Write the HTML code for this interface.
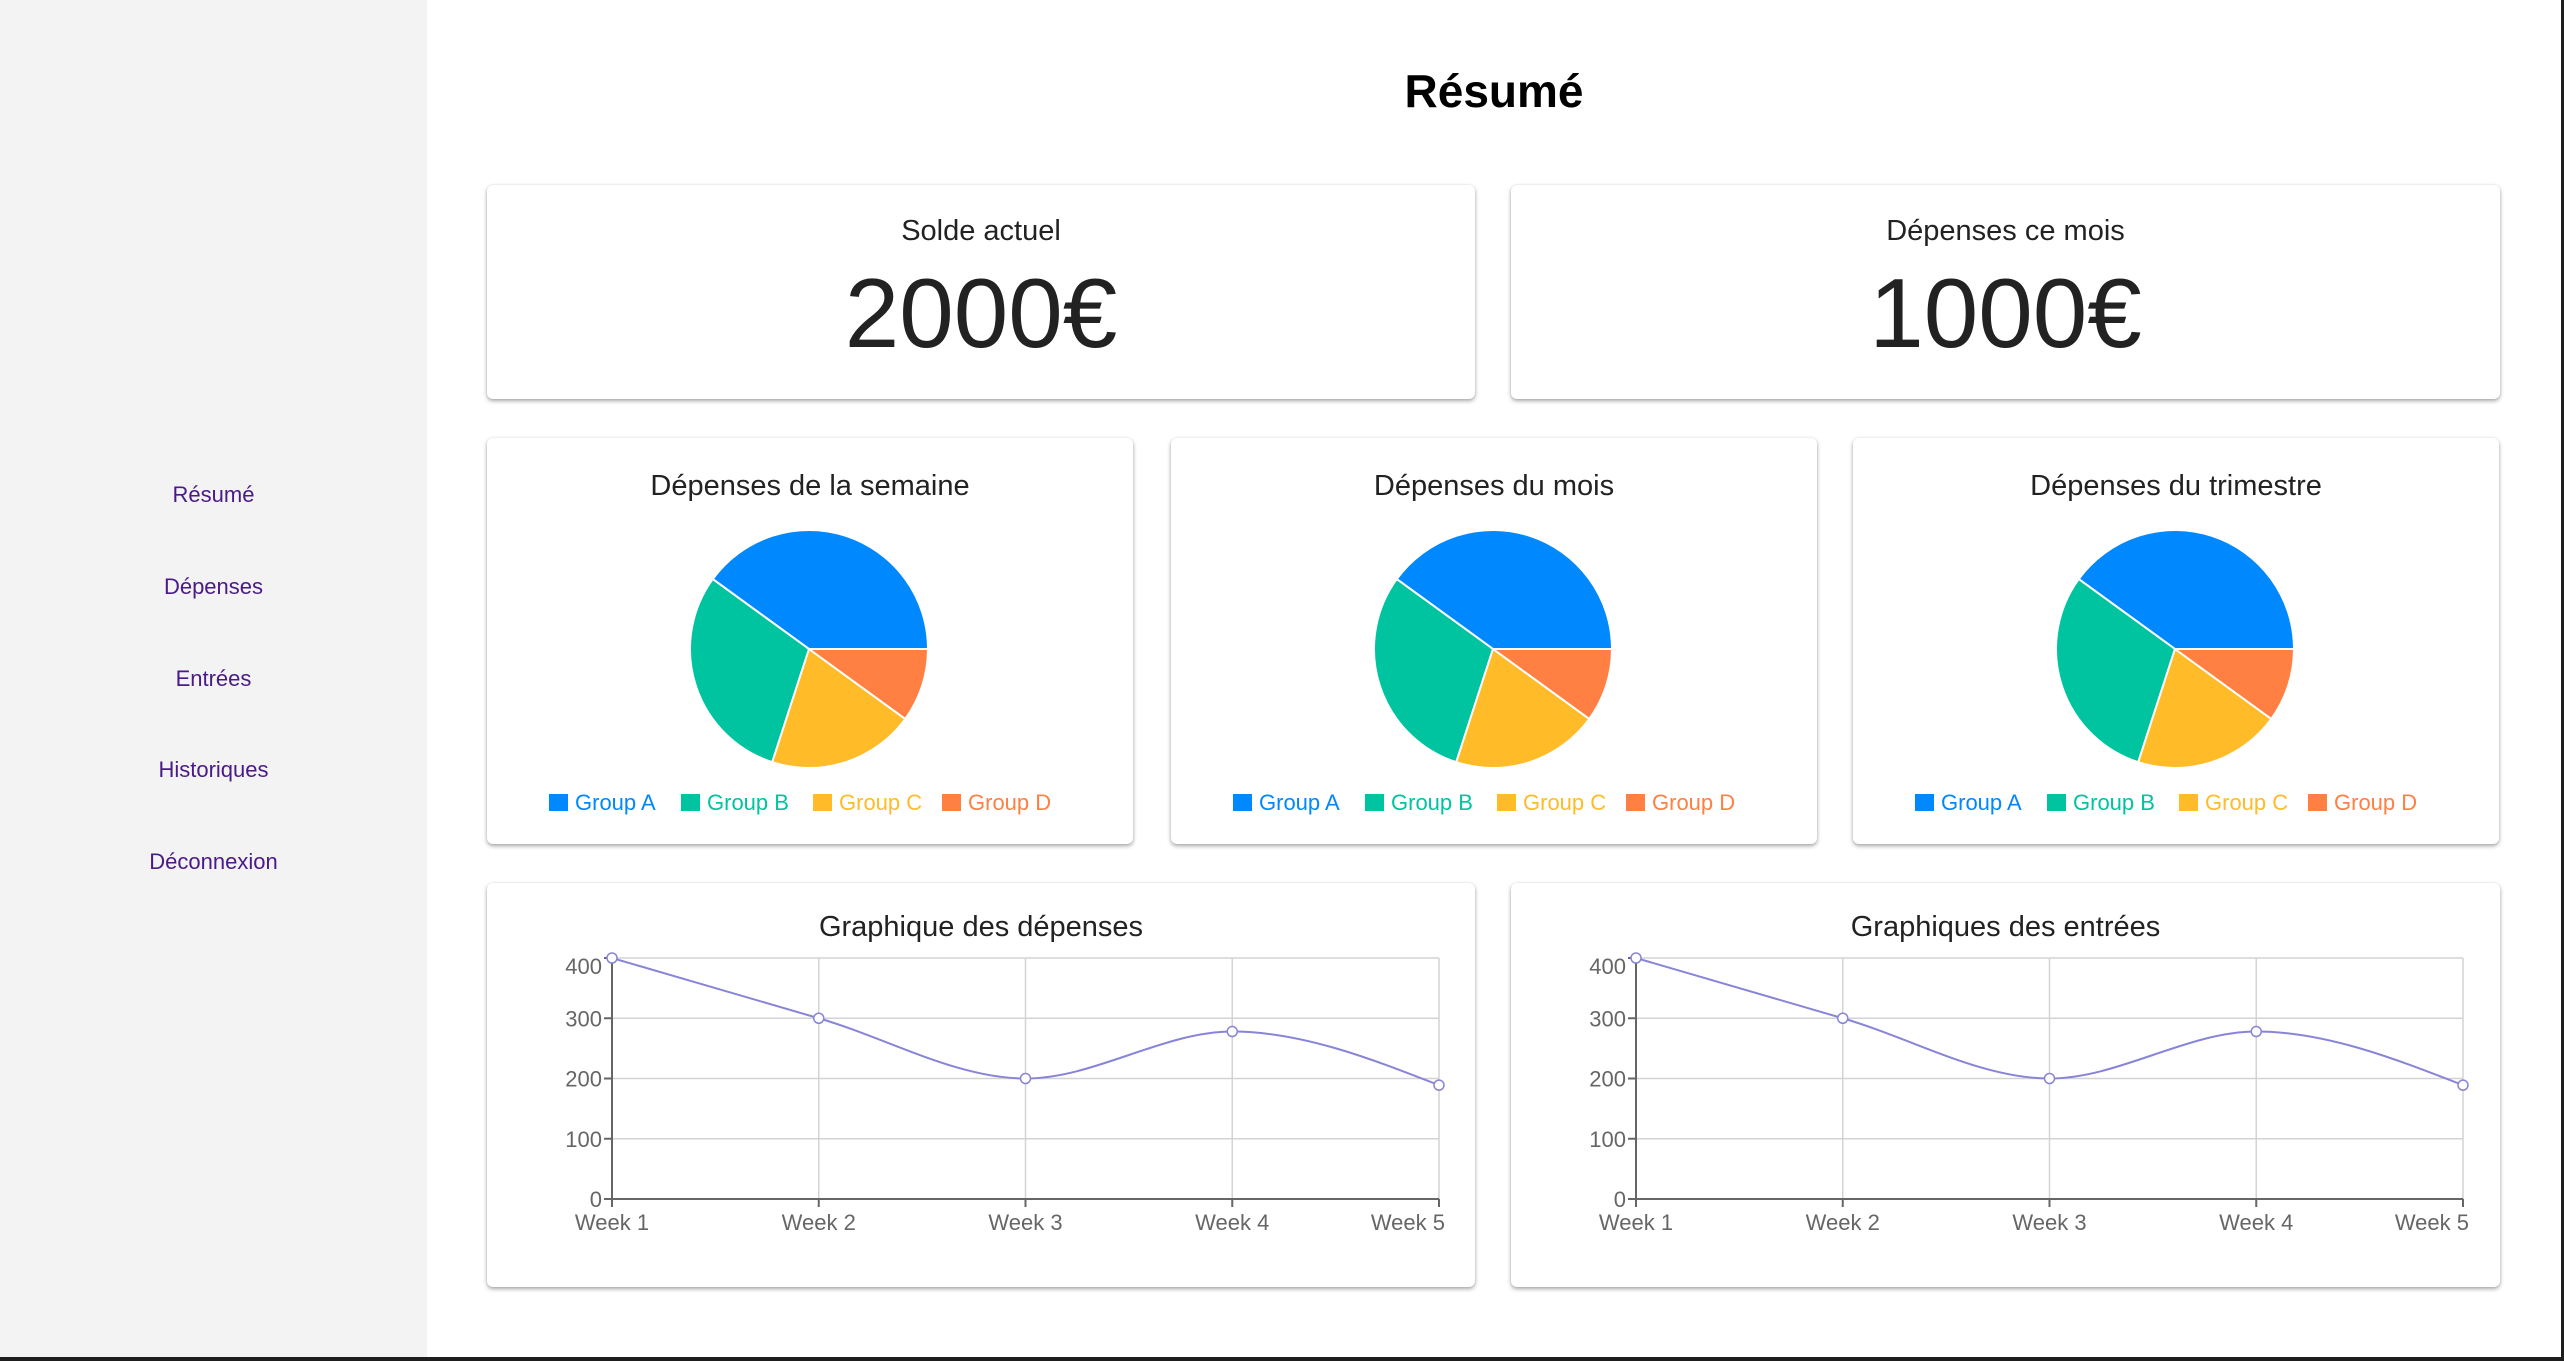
<!DOCTYPE html>
<html><head><meta charset="utf-8">
<style>
html,body{margin:0;padding:0;}
body{width:2564px;height:1361px;position:relative;overflow:hidden;background:#fff;font-family:"Liberation Sans",sans-serif;}
#frame-bottom{position:absolute;left:0;top:1357px;width:2564px;height:4px;background:#1e1e1e;}
#frame-right{position:absolute;left:2561px;top:0;width:3px;height:1361px;background:#1e1e1e;}
#sidebar{position:absolute;left:0;top:0;width:427px;height:1357px;background:#f3f3f3;}
.nav{position:absolute;left:0;width:427px;text-align:center;color:#4a1a86;font-size:22px;cursor:pointer;}
h1{position:absolute;left:427px;width:2134px;top:64px;margin:0;text-align:center;font-size:46px;font-weight:bold;color:#000;}
.card{position:absolute;background:#fff;border-radius:6px;box-shadow:0 2px 4px rgba(0,0,0,.35),0 0 2px rgba(0,0,0,.08);}
.ctitle{position:absolute;left:0;width:100%;text-align:center;color:#222;font-size:29px;}
.big{position:absolute;left:0;width:100%;text-align:center;color:#222;font-size:98px;}
svg{position:absolute;left:0;top:0;}
</style></head><body>
<div id="sidebar">
<div class="nav" style="top:482px">Résumé</div>
<div class="nav" style="top:574px">Dépenses</div>
<div class="nav" style="top:666px">Entrées</div>
<div class="nav" style="top:757px">Historiques</div>
<div class="nav" style="top:849px">Déconnexion</div>
</div>
<h1>Résumé</h1>

<div class="card" style="left:487px;top:185px;width:988px;height:214px">
<div class="ctitle" style="top:30px">Solde actuel</div>
<div class="big" style="top:72px">2000€</div>
</div>
<div class="card" style="left:1511px;top:185px;width:989px;height:214px">
<div class="ctitle" style="top:30px">Dépenses ce mois</div>
<div class="big" style="top:72px">1000€</div>
</div>

<div class="card" id="pie1" style="left:487px;top:438px;width:646px;height:406px">
<div class="ctitle" style="top:32px">Dépenses de la semaine</div></div>
<div class="card" id="pie2" style="left:1171px;top:438px;width:646px;height:406px">
<div class="ctitle" style="top:32px">Dépenses du mois</div></div>
<div class="card" id="pie3" style="left:1853px;top:438px;width:646px;height:406px">
<div class="ctitle" style="top:32px">Dépenses du trimestre</div></div>

<div class="card" id="line1" style="left:487px;top:883px;width:988px;height:404px">
<div class="ctitle" style="top:28px">Graphique des dépenses</div></div>
<div class="card" id="line2" style="left:1511px;top:883px;width:989px;height:404px">
<div class="ctitle" style="top:28px">Graphiques des entrées</div></div>

<div id="frame-bottom"></div>
<div id="frame-right"></div>

<script>
const pieGroups = ["Group A","Group B","Group C","Group D"];
const pieValues = [400,300,200,100];
const pieColors = ["#0088FE","#00C49F","#FFBB28","#FF8042"];
const weeks = ["Week 1","Week 2","Week 3","Week 4","Week 5"];
const expenseValues = [400,300,200,278,189];
const incomeValues = [400,300,200,278,189];
const yTicks = [0,100,200,300,400];

const NS="http://www.w3.org/2000/svg";
function mk(tag,attrs){const e=document.createElementNS(NS,tag);for(const k in attrs)e.setAttribute(k,attrs[k]);return e;}

function drawPie(id){
  const card=document.getElementById(id);
  const svg=mk('svg',{width:646,height:406});
  card.appendChild(svg);
  const cx=322,cy=211,r=119;
  const total=pieValues.reduce((a,b)=>a+b,0);
  let a0=0;
  pieValues.forEach((v,i)=>{
    const a1=a0+v/total*2*Math.PI;
    const x0=cx+r*Math.cos(a0),y0=cy-r*Math.sin(a0),x1=cx+r*Math.cos(a1),y1=cy-r*Math.sin(a1);
    const large=(a1-a0)>Math.PI?1:0;
    const p=mk('path',{d:`M${cx},${cy}L${x0},${y0}A${r},${r} 0 ${large} 0 ${x1},${y1}Z`,fill:pieColors[i],stroke:'#fff','stroke-width':2});
    
    
    svg.appendChild(p);
    a0=a1;
  });
  const widths=[132,132,129,0];
  let x=62;
  pieGroups.forEach((g,i)=>{
    const sq=mk('rect',{x:x,y:356,width:19,height:17,fill:pieColors[i]});
    
    
    svg.appendChild(sq);
    const t=mk('text',{x:x+26,y:372,fill:pieColors[i],'font-size':22,'font-family':'Liberation Sans, sans-serif'});
    t.textContent=g;
    
    
    svg.appendChild(t);
    x+=widths[i];
  });
}
['pie1','pie2','pie3'].forEach(drawPie);

function monotone(pts){
  const n=pts.length,dx=[],m=[],t=[];
  for(let i=0;i<n-1;i++){dx.push(pts[i+1][0]-pts[i][0]);m.push((pts[i+1][1]-pts[i][1])/dx[i]);}
  t[0]=m[0];t[n-1]=m[n-2];
  for(let i=1;i<n-1;i++){
    if(m[i-1]*m[i]<=0)t[i]=0;
    else{const p=(m[i-1]*dx[i]+m[i]*dx[i-1])/(dx[i-1]+dx[i]);
      t[i]=(Math.sign(m[i-1])+Math.sign(m[i]))*Math.min(Math.abs(m[i-1]),Math.abs(m[i]),0.5*Math.abs(p));}
  }
  // endpoints as d3
  const s0=(3*m[0]-t[1])/2; t[0]=s0; const sn=(3*m[n-2]-t[n-2])/2; t[n-1]=sn;
  let d=`M${pts[0][0]},${pts[0][1]}`;
  for(let i=0;i<n-1;i++){const h=dx[i]/3;
    d+=`C${pts[i][0]+h},${pts[i][1]+h*t[i]} ${pts[i+1][0]-h},${pts[i+1][1]-h*t[i+1]} ${pts[i+1][0]},${pts[i+1][1]}`;}
  return d;
}

function drawLine(id,values,w){
  const card=document.getElementById(id);
  const svg=mk('svg',{width:w,height:404});
  card.appendChild(svg);
  const L=125,R=L+827,T=75,B=316;
  const xs=i=>L+(R-L)*i/(weeks.length-1);
  const ys=v=>B-(B-T)*v/400;
  const grid=mk('g',{stroke:'#d3d3d3','stroke-width':1.5});
  
  
  svg.appendChild(grid);
  yTicks.forEach(v=>grid.appendChild(mk('line',{x1:L,x2:R,y1:ys(v),y2:ys(v)})));
  weeks.forEach((w,i)=>grid.appendChild(mk('line',{x1:xs(i),x2:xs(i),y1:T,y2:B})));
  const ax=mk('g',{stroke:'#666','stroke-width':2});
  
  
  svg.appendChild(ax);
  ax.appendChild(mk('line',{x1:L,x2:L,y1:T,y2:B}));
  ax.appendChild(mk('line',{x1:L,x2:R,y1:B,y2:B}));
  yTicks.forEach(v=>{
    ax.appendChild(mk('line',{x1:L-8,x2:L,y1:ys(v),y2:ys(v)}));
    const t=mk('text',{x:L-10,y:ys(v)+8+(v===400?8:0),'text-anchor':'end',fill:'#666',stroke:'none','font-size':22,'font-family':'Liberation Sans, sans-serif'});
    t.textContent=v;
    
    
    svg.appendChild(t);
  });
  weeks.forEach((wk,i)=>{
    ax.appendChild(mk('line',{x1:xs(i),x2:xs(i),y1:B,y2:B+8}));
    const anchor=i===weeks.length-1?'end':'middle';
    const t=mk('text',{x:i===weeks.length-1?xs(i)+6:xs(i),y:B+31,'text-anchor':anchor,fill:'#666','font-size':22,'font-family':'Liberation Sans, sans-serif'});
    t.textContent=wk;
    
    
    svg.appendChild(t);
  });
  const pts=values.map((v,i)=>[xs(i),ys(v)]);
  const path=mk('path',{d:monotone(pts),fill:'none',stroke:'#8884d8','stroke-width':2});
  
  
  svg.appendChild(path);
  pts.forEach(p=>{
    const c=mk('circle',{cx:p[0],cy:p[1],r:5,fill:'#fff',stroke:'#8884d8','stroke-width':1.5});
    
    
    svg.appendChild(c);
  });
}
drawLine('line1',expenseValues,988);
drawLine('line2',incomeValues,989);
</script>
</body></html>
